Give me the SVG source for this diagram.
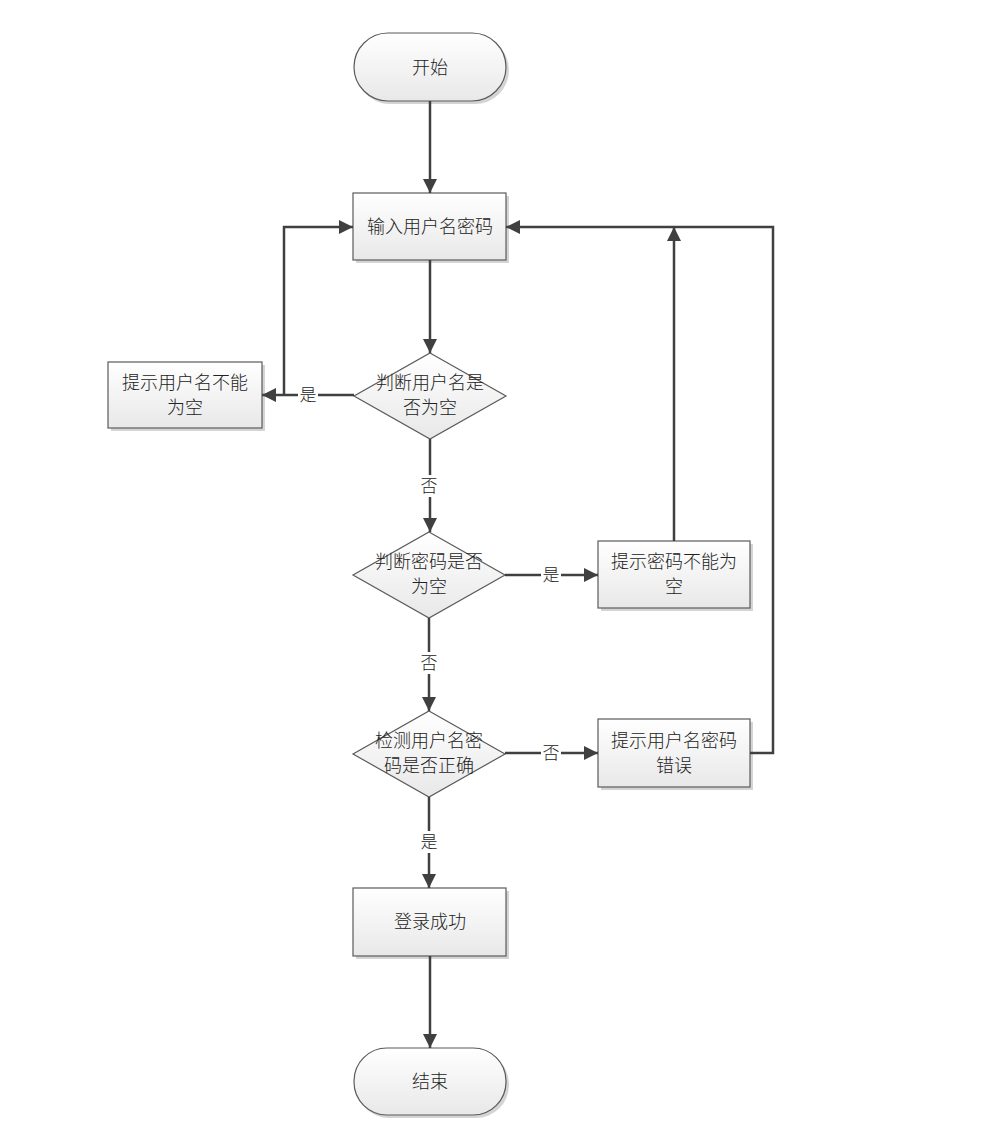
<svg xmlns="http://www.w3.org/2000/svg" width="994" height="1134" viewBox="0 0 994 1134">
<defs>
<linearGradient id="g" x1="0" y1="0" x2="0" y2="1">
<stop offset="0" stop-color="#ffffff"/>
<stop offset="1" stop-color="#e8e8e8"/>
</linearGradient>
<marker id="arr" viewBox="0 0 14 14" refX="14" refY="7" markerWidth="14" markerHeight="14" markerUnits="userSpaceOnUse" orient="auto">
<path d="M0,0 L14,7 L0,14 Z" fill="#404040"/>
</marker>
</defs>
<style>
.n{fill:url(#g);stroke:#5a5a5a;stroke-width:1.2}
.sh{fill:#d4d4d4;stroke:none}
.t{font-family:"Noto Sans CJK SC","Noto Sans",sans-serif;font-size:18px;font-weight:300;fill:#222;text-anchor:middle}
.c{fill:none;stroke:#404040;stroke-width:2.5}
.lb{font-family:"Noto Sans CJK SC","Noto Sans",sans-serif;font-size:17px;font-weight:300;fill:#222;text-anchor:middle}
.lbg{fill:#ffffff}
</style>
<rect width="994" height="1134" fill="#ffffff"/>
<g id="start">
<rect class="sh" x="356" y="36" width="153" height="68" rx="34"/>
<rect class="n" x="354" y="33" width="152" height="68" rx="34"/>
<text class="t" x="430" y="74">开始</text>
</g>
<g id="input">
<rect class="sh" x="356" y="196" width="153" height="67"/>
<rect class="n" x="353" y="193" width="153" height="67"/>
<text class="t" x="430" y="233">输入用户名密码</text>
</g>
<g id="check_user">
<path class="n" d="M430,353 L506,396 L430,439 L354,396 Z"/>
<text class="t" x="430" y="389">判断用户名是</text>
<text class="t" x="430" y="414">否为空</text>
</g>
<g id="tip_user">
<rect class="sh" x="111" y="365" width="154" height="66"/>
<rect class="n" x="108" y="362" width="154" height="66"/>
<text class="t" x="185" y="389">提示用户名不能</text>
<text class="t" x="185" y="414">为空</text>
</g>
<g id="check_pwd">
<path class="n" d="M429,532 L505,575 L429,618 L353,575 Z"/>
<text class="t" x="429" y="568">判断密码是否</text>
<text class="t" x="429" y="593">为空</text>
</g>
<g id="tip_pwd">
<rect class="sh" x="601" y="544" width="152" height="67"/>
<rect class="n" x="598" y="541" width="152" height="67"/>
<text class="t" x="674" y="568">提示密码不能为</text>
<text class="t" x="674" y="593">空</text>
</g>
<g id="check_both">
<path class="n" d="M429,711 L505,754 L429,797 L353,754 Z"/>
<text class="t" x="429" y="747">检测用户名密</text>
<text class="t" x="429" y="772">码是否正确</text>
</g>
<g id="tip_err">
<rect class="sh" x="601" y="722" width="152" height="68"/>
<rect class="n" x="598" y="719" width="152" height="68"/>
<text class="t" x="674" y="747">提示用户名密码</text>
<text class="t" x="674" y="772">错误</text>
</g>
<g id="success">
<rect class="sh" x="356" y="891" width="153" height="68"/>
<rect class="n" x="353" y="888" width="153" height="68"/>
<text class="t" x="430" y="928">登录成功</text>
</g>
<g id="end">
<rect class="sh" x="356" y="1051" width="153" height="67" rx="33"/>
<rect class="n" x="354" y="1048" width="152" height="67" rx="33"/>
<text class="t" x="430" y="1088">结束</text>
</g>
<g id="connectors">
<path class="c" marker-end="url(#arr)" d="M430,101 L430,193"/>
<path class="c" marker-end="url(#arr)" d="M430,260 L430,353"/>
<path class="c" marker-end="url(#arr)" d="M354,395 L262,395"/>
<path class="c" marker-end="url(#arr)" d="M284,395 L284,227 L353,227"/>
<path class="c" marker-end="url(#arr)" d="M430,439 L430,532"/>
<path class="c" marker-end="url(#arr)" d="M505,575 L598,575"/>
<path class="c" marker-end="url(#arr)" d="M674,541 L674,227"/>
<path class="c" marker-end="url(#arr)" d="M429,618 L429,711"/>
<path class="c" marker-end="url(#arr)" d="M505,753 L598,753"/>
<path class="c" marker-end="url(#arr)" d="M750,753 L773,753 L773,227 L506,227"/>
<path class="c" marker-end="url(#arr)" d="M429,797 L429,888"/>
<path class="c" marker-end="url(#arr)" d="M430,956 L430,1048"/>
<rect class="lbg" x="298" y="384" width="20" height="22"/>
<text class="lb" x="308" y="401">是</text>
<rect class="lbg" x="419" y="475" width="20" height="22"/>
<text class="lb" x="429" y="492">否</text>
<rect class="lbg" x="541" y="564" width="20" height="22"/>
<text class="lb" x="551" y="581">是</text>
<rect class="lbg" x="419" y="652" width="20" height="22"/>
<text class="lb" x="429" y="669">否</text>
<rect class="lbg" x="541" y="742" width="20" height="22"/>
<text class="lb" x="551" y="759">否</text>
<rect class="lbg" x="419" y="831" width="20" height="22"/>
<text class="lb" x="429" y="848">是</text>
</g>
</svg>
